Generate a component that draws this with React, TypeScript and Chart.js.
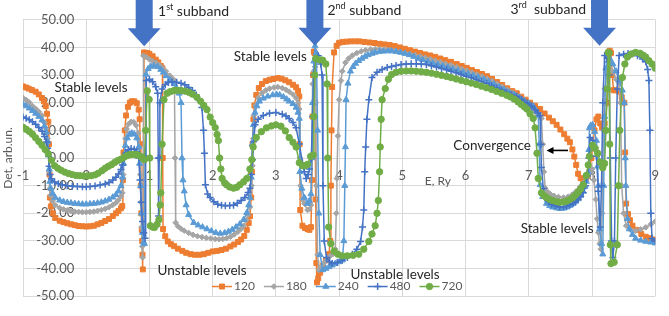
import React, { useEffect, useRef } from 'react';
import { Chart, registerables } from 'chart.js';

Chart.register(...registerables);

// ---------- data (E in Ry, Det in arb. units) ----------
const seriesNames = ['120', '180', '240', '480', '720'];

const s120: number[][] = [
  [-1, 25.9], [-0.95, 25.5], [-0.91, 25.1], [-0.86, 24.6], [-0.8, 24], [-0.75, 23], [-0.7, 21.7], [-0.67, 20.5], [-0.64, 18.8], [-0.62, 16], [-0.6, 13.1], [-0.59, 5], [-0.58, -6], [-0.575, -14.3], [-0.56, -17.5], [-0.53, -20], [-0.49, -21.7], [-0.42, -22.7], [-0.36, -23.2], [-0.3, -23.6], [-0.24, -24], [-0.18, -24.3], [-0.12, -24.6], [-0.06, -24.7], [0, -24.8], [0.06, -24.7], [0.12, -24.5], [0.18, -24], [0.24, -23.5], [0.3, -22.8], [0.36, -22.1], [0.42, -21], [0.47, -20], [0.51, -19.2], [0.55, -18.2], [0.57, -17.4], [0.58, -8], [0.59, 2], [0.61, 10], [0.63, 15.4], [0.66, 18.5], [0.69, 20], [0.72, 20.5], [0.76, 20.5], [0.8, 19.8], [0.83, 17.5], [0.845, 14], [0.855, 5], [0.865, -10], [0.872, -20], [0.879, -26], [0.885, -30], [0.89, -35], [0.895, -40.3], [0.905, 0], [0.915, 38.2], [0.96, 38], [1.0, 37.7], [1.05, 36.8], [1.1, 35.6], [1.14, 34.6], [1.18, 33.3], [1.205, 32.5], [1.21, 0], [1.215, -25.7], [1.25, -28.3], [1.29, -30.2], [1.34, -31.2], [1.39, -31.9], [1.45, -32.8], [1.52, -33.6], [1.58, -34.3], [1.65, -34.8], [1.72, -35], [1.79, -35], [1.86, -34.8], [1.93, -34.3], [2.0, -33.8], [2.07, -33.6], [2.14, -33.3], [2.21, -32.8], [2.28, -32], [2.34, -31.3], [2.4, -30.4], [2.45, -29.5], [2.5, -28.2], [2.54, -26], [2.57, -23.5], [2.59, -21.1], [2.61, -14.3], [2.62, -5], [2.63, 5], [2.645, 14], [2.66, 19], [2.69, 22.8], [2.73, 25.3], [2.78, 26.8], [2.84, 27.8], [2.9, 28.3], [2.96, 28.6], [3.03, 28.9], [3.09, 28.7], [3.15, 28.1], [3.21, 27.4], [3.27, 26.5], [3.32, 25.6], [3.35, 24.3], [3.37, 22.3], [3.375, 5], [3.385, -18.8], [3.42, -24.5], [3.46, -25.3], [3.5, -25.7], [3.53, -26], [3.555, -25], [3.57, -8], [3.58, 15], [3.59, 30], [3.6, 38.5], [3.61, 38], [3.62, 20], [3.63, -15], [3.64, -38], [3.65, -45], [3.67, -43.5], [3.7, -41.5], [3.74, -39], [3.79, -37], [3.84, -34.8], [3.86, -30], [3.87, -10], [3.88, 10], [3.89, 25.7], [3.92, 38.2], [3.96, 40.6], [4.0, 41.7], [4.06, 42], [4.12, 42.1], [4.18, 42.2], [4.25, 42.2], [4.32, 42.2], [4.4, 42], [4.48, 41.8], [4.56, 41.6], [4.64, 41.3], [4.72, 41.1], [4.8, 40.9], [4.88, 40.5], [4.96, 40], [5.04, 39.5], [5.12, 39], [5.2, 38.5], [5.28, 38], [5.36, 37.5], [5.44, 37.1], [5.52, 36.6], [5.6, 36], [5.68, 35.4], [5.77, 34.8], [5.86, 34], [5.94, 33.3], [6.02, 32.6], [6.1, 31.8], [6.18, 31.1], [6.26, 30.4], [6.34, 29.6], [6.42, 28.6], [6.5, 27.5], [6.58, 26.4], [6.66, 25.2], [6.74, 24.2], [6.81, 23.4], [6.88, 22.2], [6.95, 21.1], [7.02, 20], [7.1, 18.9], [7.18, 17.7], [7.25, 16.1], [7.32, 14.6], [7.38, 13.3], [7.44, 12], [7.5, 10.3], [7.56, 8.6], [7.61, 7], [7.65, 5.7], [7.69, 3.1], [7.72, 0.5], [7.75, -2.5], [7.78, -5.7], [7.82, -7.3], [7.86, -8], [7.9, -7.5], [7.93, -6.5], [7.96, -5], [7.99, 0], [8.01, 4], [8.04, 10], [8.07, 14], [8.1, 15], [8.13, 12.5], [8.16, 11], [8.2, 12.5], [8.24, 20], [8.26, 32], [8.28, 38.8], [8.3, 38], [8.32, 30], [8.34, 24.5], [8.38, 24.5], [8.43, 24], [8.47, 22], [8.51, 20], [8.525, 2], [8.54, -16.5], [8.57, -20.3], [8.6, -22.5], [8.64, -24.5], [8.7, -26], [8.78, -27.5], [8.85, -28.5], [8.92, -29], [9, -29.5],
];

const s180: number[][] = [
  [-1, 21.7], [-0.95, 21], [-0.9, 20.1], [-0.85, 18.8], [-0.8, 17.8], [-0.75, 16.7], [-0.7, 15.4], [-0.66, 12.8], [-0.63, 10.5], [-0.61, 7], [-0.595, 2], [-0.585, -5], [-0.575, -11], [-0.565, -13.5], [-0.53, -15.5], [-0.49, -17.1], [-0.42, -18.1], [-0.36, -18.6], [-0.3, -18.9], [-0.24, -19.2], [-0.18, -19.4], [-0.12, -19.5], [-0.06, -19.6], [0, -19.6], [0.06, -19.5], [0.12, -19.4], [0.18, -19.1], [0.24, -18.8], [0.3, -18.4], [0.36, -17.8], [0.42, -17], [0.47, -16.2], [0.51, -15.2], [0.55, -13.8], [0.57, -12.6], [0.585, -6], [0.6, 1], [0.62, 7], [0.64, 10.5], [0.67, 12.3], [0.71, 13.1], [0.75, 13], [0.79, 11.8], [0.82, 9], [0.84, 4], [0.855, -6], [0.865, -16], [0.875, -25], [0.885, -32], [0.892, -36], [0.9, 0], [0.905, 37], [0.95, 36.5], [1.0, 35.7], [1.05, 35], [1.1, 34.5], [1.15, 33.7], [1.2, 32.7], [1.26, 31.4], [1.32, 29.8], [1.36, 28.8], [1.395, 28], [1.405, 0], [1.415, -23.4], [1.45, -24.7], [1.5, -25.6], [1.55, -26.3], [1.62, -27.1], [1.69, -27.8], [1.76, -28.3], [1.83, -28.6], [1.9, -28.9], [1.97, -29.1], [2.04, -29.3], [2.1, -29.4], [2.16, -29.3], [2.22, -29], [2.28, -28.5], [2.34, -27.7], [2.4, -26.7], [2.45, -25.6], [2.49, -24.5], [2.53, -22.5], [2.56, -20.5], [2.59, -17.7], [2.615, -10], [2.63, -2.8], [2.64, 7], [2.65, 15.4], [2.68, 19], [2.72, 21.7], [2.78, 23.5], [2.84, 24.5], [2.9, 25.1], [2.97, 25.5], [3.03, 25.7], [3.1, 25.3], [3.16, 24.7], [3.21, 24], [3.27, 23], [3.32, 21.7], [3.35, 20], [3.37, 17.7], [3.38, 0], [3.39, -10], [3.42, -15], [3.45, -16.5], [3.5, -18.8], [3.53, -18.5], [3.555, -17], [3.57, 0], [3.58, 26.8], [3.6, 31.4], [3.62, 33], [3.63, 20], [3.64, -10], [3.66, -35], [3.68, -40.5], [3.72, -39.3], [3.76, -38], [3.8, -37], [3.85, -35.6], [3.9, -34.8], [3.94, -33], [3.955, -20], [3.965, -7.4], [3.98, 8], [4.0, 21.1], [4.03, 28], [4.05, 31.4], [4.1, 34.5], [4.15, 36], [4.21, 37.1], [4.28, 38], [4.35, 38.6], [4.42, 39], [4.5, 39.3], [4.57, 39.4], [4.64, 39.4], [4.72, 39.2], [4.8, 39], [4.88, 38.8], [4.96, 38.4], [5.04, 38], [5.12, 37.6], [5.2, 37.2], [5.28, 36.8], [5.36, 36.3], [5.44, 35.8], [5.52, 35.2], [5.6, 34.7], [5.68, 34.1], [5.77, 33.6], [5.86, 32.9], [5.94, 32.2], [6.02, 31.6], [6.1, 30.9], [6.18, 30.2], [6.26, 29.5], [6.34, 28.7], [6.42, 27.8], [6.5, 26.8], [6.58, 25.8], [6.66, 24.7], [6.74, 23.6], [6.81, 22.6], [6.88, 21.4], [6.95, 20.1], [7.02, 18.8], [7.07, 17.7], [7.13, 16], [7.2, 14.3], [7.22, 5], [7.24, -5], [7.26, -10.9], [7.3, -12.3], [7.34, -13.1], [7.4, -13.7], [7.47, -14.1], [7.55, -14.3], [7.62, -14], [7.69, -13.2], [7.75, -12], [7.81, -10.5], [7.86, -9], [7.91, -7.4], [7.96, -5.5], [8.0, -4], [8.03, -8], [8.06, -15], [8.08, -22], [8.1, -27], [8.12, -31], [8.14, -33], [8.16, -20], [8.18, 10], [8.2, 25], [8.24, 31], [8.28, 33.7], [8.32, 31.5], [8.38, 28.5], [8.43, 26.8], [8.45, 20], [8.47, -10], [8.5, -20], [8.54, -24.5], [8.6, -25.8], [8.69, -26.3], [8.77, -25.8], [8.85, -25.1], [8.93, -24], [9, -23],
];

const s240: number[][] = [
  [-1, 19.4], [-0.95, 18.8], [-0.9, 18], [-0.85, 17.1], [-0.8, 16.1], [-0.75, 15], [-0.7, 13.7], [-0.66, 11.5], [-0.63, 9.3], [-0.61, 6], [-0.595, 1.7], [-0.585, -4], [-0.575, -8.5], [-0.56, -11], [-0.53, -12.8], [-0.49, -14.3], [-0.42, -15.3], [-0.36, -15.8], [-0.3, -16.1], [-0.24, -16.3], [-0.18, -16.5], [-0.12, -16.6], [-0.06, -16.7], [0, -16.7], [0.06, -16.6], [0.12, -16.5], [0.18, -16.3], [0.24, -16], [0.3, -15.6], [0.36, -15], [0.42, -14.2], [0.47, -13.3], [0.51, -12], [0.55, -10], [0.575, -7], [0.59, -2], [0.6, 1], [0.62, 4.5], [0.65, 7.2], [0.68, 8.5], [0.72, 9], [0.76, 8.6], [0.8, 7.2], [0.83, 4], [0.845, -2], [0.86, -10], [0.875, -20], [0.89, -27], [0.91, -30.5], [0.92, -31], [0.93, 0], [0.945, 30.2], [0.98, 32.3], [1.02, 33.1], [1.07, 33.3], [1.13, 33], [1.18, 32], [1.22, 31], [1.26, 29.7], [1.32, 28.3], [1.39, 26.8], [1.43, 25.3], [1.47, 23.4], [1.5, 20], [1.515, 0], [1.53, -8], [1.55, -12], [1.58, -17], [1.62, -20.5], [1.7, -23.4], [1.77, -24.3], [1.84, -25], [1.91, -25.7], [1.98, -26.4], [2.05, -27], [2.12, -27.3], [2.19, -27.1], [2.25, -26.6], [2.31, -25.9], [2.37, -25], [2.43, -23.9], [2.49, -22.3], [2.54, -19.8], [2.57, -17], [2.59, -14.3], [2.61, -7], [2.625, 5], [2.645, 12], [2.67, 16.5], [2.7, 18.8], [2.74, 20.5], [2.8, 21.6], [2.87, 22.3], [2.95, 22.8], [3.01, 23], [3.06, 22.8], [3.12, 22.1], [3.17, 21.3], [3.21, 20.5], [3.27, 19.6], [3.32, 18.3], [3.35, 16.5], [3.37, 14.3], [3.38, -5], [3.41, -11], [3.45, -14.3], [3.5, -16.5], [3.53, -15.5], [3.555, -13], [3.57, 0], [3.58, 20], [3.6, 35], [3.62, 40.5], [3.64, 38], [3.66, 10], [3.68, -20], [3.7, -35], [3.74, -40.5], [3.79, -40], [3.84, -39.4], [3.89, -38.8], [3.94, -38.2], [4.0, -37.6], [4.05, -37], [4.075, -30], [4.09, -10], [4.1, 4], [4.11, 21.1], [4.14, 27], [4.18, 31.4], [4.22, 33], [4.26, 34.2], [4.31, 35.2], [4.36, 36], [4.41, 36.7], [4.46, 37.3], [4.52, 37.8], [4.57, 38.2], [4.64, 38.5], [4.7, 38.6], [4.77, 38.7], [4.83, 38.7], [4.9, 38.5], [4.97, 38.2], [5.04, 37.8], [5.11, 37.3], [5.18, 36.7], [5.25, 36], [5.32, 35.5], [5.4, 34.9], [5.48, 34.3], [5.56, 33.8], [5.64, 33.3], [5.72, 32.8], [5.8, 32.2], [5.88, 31.6], [5.96, 31], [6.04, 30.4], [6.12, 29.8], [6.2, 29.2], [6.29, 28.5], [6.37, 27.6], [6.45, 26.7], [6.53, 25.7], [6.61, 24.7], [6.69, 23.8], [6.77, 22.9], [6.85, 21.9], [6.93, 20.7], [7.0, 19.8], [7.07, 18.8], [7.12, 17], [7.15, 15.4], [7.165, 5], [7.18, -9.7], [7.22, -14], [7.28, -16.5], [7.33, -17.3], [7.38, -17.8], [7.44, -18.1], [7.49, -18.3], [7.55, -18.2], [7.6, -17.8], [7.65, -17.2], [7.7, -16.5], [7.74, -15.7], [7.78, -14.8], [7.82, -13.5], [7.86, -12], [7.89, -10.3], [7.91, -8.5], [7.94, -5.1], [7.95, 3], [7.96, 10.9], [7.98, 11.8], [8.01, 12], [8.04, 9.5], [8.07, 6.3], [8.09, -3], [8.1, -10], [8.12, -25.7], [8.15, -31], [8.17, -34.8], [8.185, -10], [8.2, 15], [8.22, 32.5], [8.25, 35], [8.28, 36], [8.33, 34], [8.38, 31.4], [8.43, 28], [8.48, 24.5], [8.51, 20], [8.525, 0], [8.535, -10], [8.56, -22], [8.59, -25.7], [8.64, -27.7], [8.69, -29.1], [8.77, -29.8], [8.85, -30.2], [8.93, -30.5], [9, -30.8],
];

const s480: number[][] = [
  [-1, 14.8], [-0.95, 14.4], [-0.9, 13.8], [-0.85, 13.1], [-0.8, 12.2], [-0.75, 11], [-0.7, 9.7], [-0.66, 7.8], [-0.63, 5.8], [-0.61, 3.5], [-0.595, 0.5], [-0.585, -3], [-0.57, -6], [-0.55, -7.5], [-0.5, -8.7], [-0.44, -9.3], [-0.38, -9.7], [-0.3, -10], [-0.22, -10.2], [-0.14, -10.3], [-0.06, -10.4], [0, -10.4], [0.06, -10.3], [0.14, -10.1], [0.22, -9.8], [0.3, -9.4], [0.36, -8.9], [0.42, -8], [0.47, -7], [0.51, -5.8], [0.55, -4.2], [0.575, -2.5], [0.6, 0], [0.63, 1.8], [0.67, 3], [0.71, 3.4], [0.76, 3.2], [0.8, 2.3], [0.83, 0], [0.85, -8], [0.87, -16], [0.89, -23], [0.91, -27], [0.93, -29], [0.94, 0], [0.95, 28], [1.0, 28.5], [1.05, 27.6], [1.1, 25.8], [1.13, 23.4], [1.14, 0], [1.145, -21], [1.155, 0], [1.165, 20], [1.2, 25], [1.25, 26.6], [1.3, 27.3], [1.36, 27.5], [1.43, 27.4], [1.5, 27], [1.56, 26.5], [1.62, 25.5], [1.68, 24.4], [1.74, 22.8], [1.79, 20.8], [1.83, 18.3], [1.855, 10], [1.87, 1.7], [1.885, -9.7], [1.92, -13], [1.96, -14.3], [2.02, -15.8], [2.08, -16.7], [2.14, -17.1], [2.2, -17.3], [2.27, -17.2], [2.33, -17.1], [2.39, -16.4], [2.45, -15.4], [2.51, -14.3], [2.56, -12.5], [2.59, -10.9], [2.61, -6], [2.63, -0.6], [2.65, 6], [2.67, 12], [2.72, 14], [2.8, 15.4], [2.9, 16.2], [3.0, 16.5], [3.1, 15.8], [3.16, 15.2], [3.21, 14.3], [3.27, 12.8], [3.32, 10.9], [3.37, 5.1], [3.42, -1.7], [3.45, -5], [3.48, -7.4], [3.51, -6], [3.53, -4], [3.56, 0], [3.58, 15], [3.6, 30], [3.63, 36], [3.67, 37], [3.71, 34], [3.73, 30], [3.745, -10], [3.765, -30], [3.8, -36], [3.85, -37.5], [3.89, -38.2], [3.97, -37.8], [4.05, -37], [4.13, -36], [4.21, -34.8], [4.28, -33], [4.34, -30.2], [4.37, -25], [4.39, -18.8], [4.405, -5], [4.42, 4], [4.44, 14], [4.47, 21.1], [4.52, 29.1], [4.6, 31], [4.68, 32], [4.76, 32.7], [4.83, 33.1], [4.9, 33.5], [4.98, 33.8], [5.06, 34], [5.14, 34.1], [5.22, 34.1], [5.3, 34], [5.38, 33.8], [5.46, 33.4], [5.54, 32.9], [5.62, 32.4], [5.7, 31.9], [5.77, 31.4], [5.85, 30.8], [5.93, 30.2], [6.01, 29.6], [6.09, 29], [6.17, 28.3], [6.25, 27.7], [6.33, 27], [6.41, 26.2], [6.49, 25.4], [6.57, 24.6], [6.65, 23.8], [6.73, 23], [6.81, 22.3], [6.89, 21.2], [6.97, 19.9], [7.04, 18.8], [7.1, 17.5], [7.15, 16.3], [7.18, 15.4], [7.19, 5], [7.2, -3.4], [7.23, -11], [7.26, -14.3], [7.31, -15.8], [7.36, -16.7], [7.42, -17.3], [7.49, -17.7], [7.55, -17.7], [7.6, -17.5], [7.65, -17], [7.7, -16.5], [7.74, -15.8], [7.78, -15], [7.82, -14], [7.86, -12.6], [7.9, -10], [7.93, -6.5], [7.95, 0], [7.97, 7.4], [8.01, 6.3], [8.04, 3.5], [8.07, 0.6], [8.1, -12], [8.13, -25], [8.15, -10], [8.17, 20], [8.2, 37.1], [8.24, 36], [8.27, 30], [8.29, 0], [8.31, -30], [8.33, -36], [8.355, -30], [8.375, 0], [8.4, 25], [8.43, 37.1], [8.5, 37.5], [8.57, 37.8], [8.64, 37.7], [8.72, 37], [8.8, 35.8], [8.85, 34.8], [8.88, 32], [8.9, 28], [8.915, 10], [8.93, -20], [8.95, -29.1], [9, -30],
];

const s720: number[][] = [
  [-1, 11.1], [-0.95, 10.4], [-0.9, 9.6], [-0.85, 8.6], [-0.8, 7.3], [-0.75, 6], [-0.7, 4.6], [-0.65, 3.1], [-0.6, 1.5], [-0.55, -0.8], [-0.5, -2.8], [-0.45, -3.7], [-0.4, -4.4], [-0.34, -5.1], [-0.28, -5.6], [-0.22, -6], [-0.16, -6.3], [-0.1, -6.4], [-0.04, -6.5], [0.02, -6.5], [0.08, -6.4], [0.14, -6.1], [0.19, -5.5], [0.25, -4.6], [0.3, -3.7], [0.35, -3], [0.4, -2.4], [0.45, -1.6], [0.5, -0.9], [0.55, -0.4], [0.6, 0.3], [0.65, 0.9], [0.69, 1.2], [0.74, 1.3], [0.78, 1.3], [0.82, 1.1], [0.86, 0.6], [0.89, 0], [0.92, -0.6], [0.94, 10], [0.965, 24.3], [0.995, 21.2], [1.005, 0], [1.015, -24.5], [1.05, -25], [1.08, -25.1], [1.12, -24], [1.15, -22.3], [1.17, -17], [1.18, -12.6], [1.2, 5], [1.23, 21.1], [1.28, 23.4], [1.33, 24], [1.39, 24.4], [1.44, 24.5], [1.5, 24.4], [1.56, 24.2], [1.62, 23.8], [1.68, 23.1], [1.75, 22], [1.81, 20.5], [1.86, 19], [1.91, 17.5], [1.96, 14.8], [2.0, 12.8], [2.04, 11], [2.07, 8.5], [2.09, 6.3], [2.11, 0], [2.13, -4], [2.15, -7.4], [2.19, -9], [2.22, -9.7], [2.27, -10.5], [2.33, -10.9], [2.38, -10.6], [2.43, -9.7], [2.49, -8.6], [2.54, -7.4], [2.59, -4], [2.62, -0.6], [2.64, 4], [2.69, 7.4], [2.77, 9.5], [2.85, 10.9], [2.93, 11.6], [3.0, 12], [3.08, 11.5], [3.15, 9.8], [3.21, 7.4], [3.27, 5.7], [3.32, 4], [3.37, -1.7], [3.42, -2.8], [3.46, -2.8], [3.5, -2.3], [3.55, 0.6], [3.59, 1.1], [3.6, 15], [3.615, 30], [3.63, 36], [3.69, 35.5], [3.74, 35.4], [3.79, 34], [3.81, 26.8], [3.82, 0], [3.835, -25], [3.87, -31], [3.92, -33.7], [3.98, -34.8], [4.05, -35.4], [4.13, -35.4], [4.22, -35.2], [4.31, -34.8], [4.39, -33], [4.47, -30.2], [4.52, -27.5], [4.57, -24.5], [4.6, -20], [4.62, -15.4], [4.64, -5], [4.65, 4], [4.665, 14], [4.68, 21.1], [4.73, 25.1], [4.78, 28.5], [4.83, 30.2], [4.9, 31], [4.98, 31.4], [5.06, 31.5], [5.14, 31.5], [5.22, 31.4], [5.3, 31.2], [5.38, 31], [5.46, 30.7], [5.54, 30.3], [5.62, 29.9], [5.7, 29.5], [5.77, 29.1], [5.85, 28.6], [5.93, 28.1], [6.01, 27.6], [6.09, 27.1], [6.17, 26.6], [6.25, 26], [6.33, 25.4], [6.41, 24.8], [6.49, 24.1], [6.57, 23.4], [6.65, 22.7], [6.71, 22.1], [6.77, 21.3], [6.83, 20.3], [6.88, 19.4], [6.93, 18.5], [6.97, 17.7], [7.02, 16], [7.07, 14.3], [7.1, 10.9], [7.13, 1.7], [7.15, -7.4], [7.2, -12.6], [7.24, -13.6], [7.28, -14.3], [7.33, -15], [7.38, -15.4], [7.44, -15.8], [7.49, -16], [7.55, -15.9], [7.6, -15.6], [7.65, -15], [7.7, -14.3], [7.74, -13.4], [7.78, -12.4], [7.82, -11.2], [7.86, -9.7], [7.91, -6.3], [7.94, -2.5], [7.96, 0.6], [8.01, 4.6], [8.05, 3.5], [8.09, 1.7], [8.13, -1.5], [8.17, -3.5], [8.2, -2], [8.22, 10], [8.24, 25], [8.255, 38.2], [8.27, 38], [8.28, 5], [8.29, -31.4], [8.3, -38.2], [8.35, -37.7], [8.4, -31.4], [8.42, -10], [8.44, 10], [8.48, 29.1], [8.52, 34], [8.56, 36.5], [8.62, 37.6], [8.69, 38.2], [8.76, 37.9], [8.81, 37.2], [8.85, 36.5], [8.9, 35.2], [8.95, 34], [9, 32.5],
];

const seriesData = [s120, s180, s240, s480, s720];

const xAxisTitle = 'E, Ry';
const yAxisTitle = 'Det, arb.un.';

// annotation texts (anchored in data coordinates: E, Det)
const noteTexts = [
  { text: 'Stable levels', e: -0.5, v: 25.3 },
  { text: 'Stable levels', e: 2.334, v: 36.6 },
  { text: 'Stable levels', e: 6.872, v: -25.7 },
  { text: 'Unstable levels', e: 1.128, v: -40.8 },
  { text: 'Unstable levels', e: 4.18, v: -42.1 },
  { text: 'Convergence', e: 5.807, v: 4.45 },
];
const subbandNotes = [
  { num: '1', sup: 'st', rest: ' subband', e: 1.136, v: 53.1 },
  { num: '2', sup: 'nd', rest: ' subband', e: 3.815, v: 53.4 },
  { num: '3', sup: 'rd', rest: '  subband', e: 6.71, v: 53.9 },
];
const subbandArrowTips = [
  { e: 0.917, v: 40.4 },
  { e: 3.617, v: 40.6 },
  { e: 8.119, v: 40.6 },
];
const convergenceArrow = { e1: 7.62, e2: 7.28, v: 2.74 };
// the y tick labels sit a little left of the E = 0 line, as in the original
const yLabelAnchorE = -0.19;

// ---------- styles ----------
const colors = ['#ED7D31', '#A5A5A5', '#5B9BD5', '#4472C4', '#70AD47'];
const pointStyles = ['rect', 'rectRot', 'triangle', 'cross', 'circle'];
const pointRadii = [3.5, 2.8, 3.5, 3.5, 3.2];
const FONT = 'Lato, "Open Sans", sans-serif';

function drawMarker(ctx: CanvasRenderingContext2D, style: string, x: number, y: number, r: number, color: string) {
  ctx.save();
  ctx.fillStyle = color;
  ctx.strokeStyle = color;
  ctx.lineWidth = 1;
  ctx.beginPath();
  if (style === 'rect') {
    const s = r * Math.SQRT1_2;
    ctx.rect(x - s, y - s, 2 * s, 2 * s);
    ctx.fill();
    ctx.stroke();
  } else if (style === 'rectRot') {
    ctx.moveTo(x, y - r);
    ctx.lineTo(x + r, y);
    ctx.lineTo(x, y + r);
    ctx.lineTo(x - r, y);
    ctx.closePath();
    ctx.fill();
    ctx.stroke();
  } else if (style === 'triangle') {
    ctx.moveTo(x, y - r);
    ctx.lineTo(x + r * 0.866, y + r * 0.5);
    ctx.lineTo(x - r * 0.866, y + r * 0.5);
    ctx.closePath();
    ctx.fill();
    ctx.stroke();
  } else if (style === 'cross') {
    ctx.lineWidth = 1.5;
    ctx.moveTo(x - r, y);
    ctx.lineTo(x + r, y);
    ctx.moveTo(x, y - r);
    ctx.lineTo(x, y + r);
    ctx.stroke();
  } else {
    ctx.arc(x, y, r, 0, Math.PI * 2);
    ctx.fill();
    ctx.stroke();
  }
  ctx.restore();
}

const overlayPlugin = {
  id: 'overlay',
  afterDraw(chart: any) {
    const { ctx } = chart;
    const xs = chart.scales.x;
    const ys = chart.scales.y;
    const px = (e: number) => xs.getPixelForValue(e);
    const py = (v: number) => ys.getPixelForValue(v);
    ctx.save();

    // axis titles
    ctx.fillStyle = '#595959';
    ctx.font = `12px ${FONT}`;
    ctx.textBaseline = 'middle';
    ctx.textAlign = 'left';
    ctx.fillText(xAxisTitle, px(5.354), py(-8.2));
    ctx.save();
    ctx.translate(8, (chart.chartArea.top + chart.chartArea.bottom) / 2);
    ctx.rotate(-Math.PI / 2);
    ctx.textAlign = 'center';
    ctx.fillText(yAxisTitle, 0, 0);
    ctx.restore();

    // subband arrows
    ctx.fillStyle = '#4472C4';
    for (const a of subbandArrowTips) {
      const tx = px(a.e);
      const ty = py(a.v);
      ctx.beginPath();
      ctx.moveTo(tx - 8.5, 0);
      ctx.lineTo(tx + 8.5, 0);
      ctx.lineTo(tx + 8.5, ty - 18);
      ctx.lineTo(tx + 16.5, ty - 18);
      ctx.lineTo(tx, ty);
      ctx.lineTo(tx - 16.5, ty - 18);
      ctx.lineTo(tx - 8.5, ty - 18);
      ctx.closePath();
      ctx.fill();
    }

    // subband labels with superscripts
    ctx.fillStyle = '#262626';
    ctx.textAlign = 'left';
    ctx.textBaseline = 'middle';
    for (const s of subbandNotes) {
      let x = px(s.e);
      const y = py(s.v);
      ctx.font = `14px ${FONT}`;
      ctx.fillText(s.num, x, y);
      x += ctx.measureText(s.num).width;
      ctx.font = `9px ${FONT}`;
      ctx.fillText(s.sup, x, y - 4);
      x += ctx.measureText(s.sup).width;
      ctx.font = `14px ${FONT}`;
      ctx.fillText(s.rest, x, y);
    }

    // notes
    ctx.font = `13.5px ${FONT}`;
    for (const n of noteTexts) {
      ctx.fillText(n.text, px(n.e), py(n.v));
    }

    // convergence arrow
    const ax1 = px(convergenceArrow.e1);
    const ax2 = px(convergenceArrow.e2);
    const ay = py(convergenceArrow.v);
    ctx.strokeStyle = '#000000';
    ctx.fillStyle = '#000000';
    ctx.lineWidth = 1.6;
    ctx.beginPath();
    ctx.moveTo(ax1, ay);
    ctx.lineTo(ax2 + 5, ay);
    ctx.stroke();
    ctx.beginPath();
    ctx.moveTo(ax2, ay);
    ctx.lineTo(ax2 + 7, ay - 3.5);
    ctx.lineTo(ax2 + 7, ay + 3.5);
    ctx.closePath();
    ctx.fill();

    // legend
    ctx.font = `12px ${FONT}`;
    ctx.textBaseline = 'middle';
    let lx = 212;
    const ly = py(-46.5);
    chart.data.datasets.forEach((ds: any, i: number) => {
      ctx.strokeStyle = colors[i];
      ctx.lineWidth = 1.5;
      ctx.beginPath();
      ctx.moveTo(lx, ly);
      ctx.lineTo(lx + 20, ly);
      ctx.stroke();
      drawMarker(ctx, pointStyles[i], lx + 10, ly, pointRadii[i], colors[i]);
      ctx.fillStyle = '#595959';
      ctx.fillText(ds.label, lx + 22, ly);
      lx += 22 + ctx.measureText(ds.label).width + 9;
    });

    ctx.restore();
  },
};

export default function App() {
  const canvasRef = useRef<HTMLCanvasElement | null>(null);

  useEffect(() => {
    const canvas = canvasRef.current;
    if (!canvas) return;
    const chart = new Chart(canvas, {
      type: 'line',
      data: {
        datasets: seriesData.map((s, i) => ({
          label: seriesNames[i],
          data: s.map(([x, y]) => ({ x, y })),
          borderColor: colors[i],
          backgroundColor: colors[i],
          borderWidth: 1.5,
          pointStyle: pointStyles[i] as any,
          pointRadius: pointRadii[i],
          pointBorderWidth: i === 3 ? 1.5 : 1,
          pointBackgroundColor: colors[i],
          pointBorderColor: colors[i],
          tension: 0,
          fill: false,
          order: seriesNames.length - i,
        })),
      },
      options: {
        animation: false,
        responsive: false,
        devicePixelRatio: 1,
        layout: { padding: { left: 23, right: 6, top: 19, bottom: 5 } },
        plugins: {
          legend: { display: false },
          tooltip: { enabled: false },
        },
        scales: {
          x: {
            type: 'linear',
            min: -1,
            max: 9,
            position: { y: 0 } as any,
            grid: { color: '#D9D9D9', drawTicks: false, lineWidth: 1 },
            border: { display: false },
            ticks: {
              stepSize: 1,
              padding: 10,
              color: '#595959',
              font: { family: FONT, size: 13 },
              callback: (v: any) => String(v),
            },
          },
          y: {
            type: 'linear',
            min: -50,
            max: 50,
            position: { x: yLabelAnchorE } as any,
            grid: { color: '#D9D9D9', drawTicks: false, lineWidth: 1 },
            border: { display: false },
            ticks: {
              stepSize: 10,
              padding: 12,
              color: '#595959',
              font: { family: FONT, size: 13 },
              callback: (v: any) => Number(v).toFixed(2),
            },
          },
        },
      },
      plugins: [overlayPlugin],
    });
    return () => chart.destroy();
  }, []);

  return (
    <div style={{ position: 'absolute', left: 0, top: 0, width: 669, height: 316, background: '#ffffff' }}>
      <canvas ref={canvasRef} width={669} height={316} style={{ display: 'block' }} />
    </div>
  );
}
